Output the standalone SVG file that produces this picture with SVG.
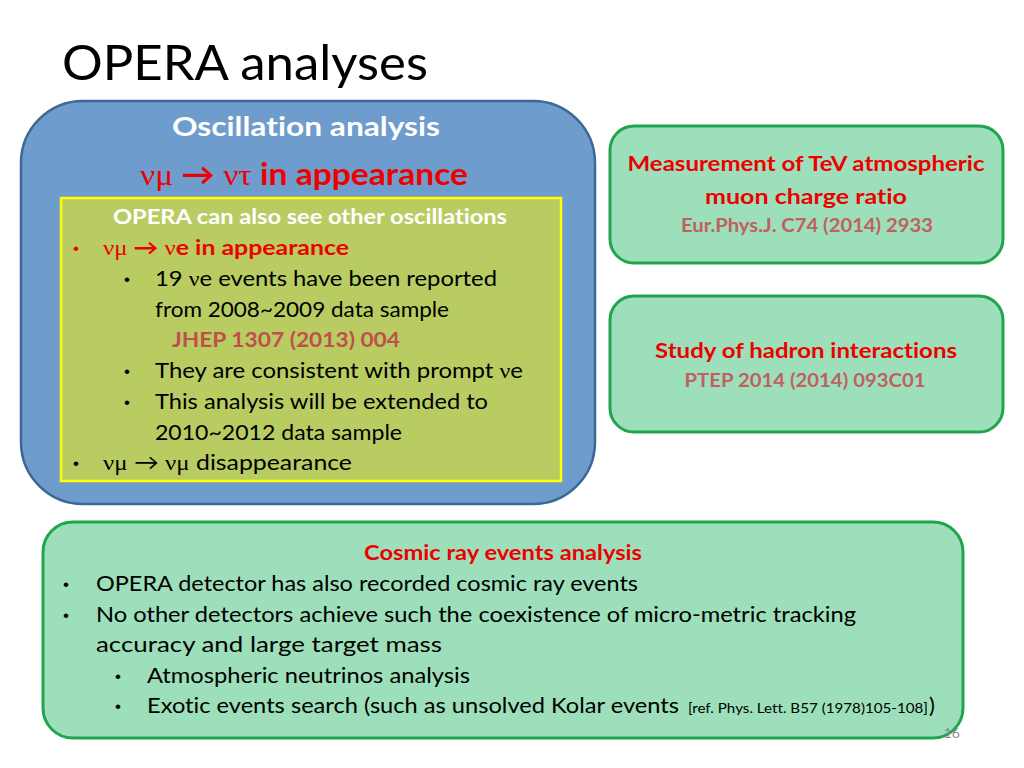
<svg xmlns="http://www.w3.org/2000/svg" width="1024" height="768" viewBox="0 0 1024 768">
<style>
text{font-family:Lato,"Open Sans","Liberation Sans",sans-serif;font-variant-ligatures:none;}
.g{font-family:"Liberation Serif","DejaVu Serif",serif;font-weight:normal;}
.b{font-weight:bold;}
.body{font-size:22px;fill:#000;}
.bul{font-size:17px;fill:#000;font-family:"Liberation Sans",sans-serif;}
.red{fill:#ee0000;}
.ref{fill:#c0504d;font-weight:bold;}
.gbox{fill:#9cdfba;stroke:#20a54e;stroke-width:3;}
</style>
<rect width="1024" height="768" fill="#fff"/>
<text x="62" y="80" font-size="48" fill="#000" textLength="366" lengthAdjust="spacingAndGlyphs">OPERA analyses</text>

<g id="oscillation">
<rect x="21" y="101" width="574" height="403" rx="62" ry="62" fill="#6e9ccc" stroke="#3c6894" stroke-width="2.5"/>
<text x="306" y="136" font-size="26" class="b" fill="#fff" text-anchor="middle" textLength="268" lengthAdjust="spacingAndGlyphs">Oscillation analysis</text>
<text x="140" y="185" font-size="30" class="b red" textLength="328" lengthAdjust="spacingAndGlyphs"><tspan class="g">νμ</tspan> → <tspan class="g">ντ</tspan> in appearance</text>
<g id="other-oscillations">
<rect x="61" y="198" width="500" height="283" fill="#b9cc62" stroke="#ffff00" stroke-width="2.5"/>
<text x="310" y="224" font-size="20" class="b" fill="#fff" text-anchor="middle" textLength="394" lengthAdjust="spacingAndGlyphs">OPERA can also see other oscillations</text>
<text x="73" y="254" class="bul" style="fill:#ee0000">•</text>
<text x="103" y="255" font-size="21" class="b red" textLength="246" lengthAdjust="spacingAndGlyphs"><tspan class="g">νμ</tspan> → <tspan class="g">ν</tspan>e in appearance</text>
<text x="124" y="285" class="bul">•</text>
<text x="155" y="286" class="body" textLength="342" lengthAdjust="spacingAndGlyphs">19 <tspan class="g">ν</tspan>e events have been reported</text>
<text x="155" y="317" class="body" textLength="294" lengthAdjust="spacingAndGlyphs">from 2008~2009 data sample</text>
<text x="172" y="347" font-size="20" class="ref" textLength="228" lengthAdjust="spacingAndGlyphs">JHEP 1307 (2013) 004</text>
<text x="124" y="377" class="bul">•</text>
<text x="155" y="378" class="body" textLength="368" lengthAdjust="spacingAndGlyphs">They are consistent with prompt <tspan class="g">ν</tspan>e</text>
<text x="124" y="408" class="bul">•</text>
<text x="155" y="409" class="body" textLength="333" lengthAdjust="spacingAndGlyphs">This analysis will be extended to</text>
<text x="155" y="440" class="body" textLength="247" lengthAdjust="spacingAndGlyphs">2010~2012 data sample</text>
<text x="73" y="469" class="bul">•</text>
<text x="103" y="470" class="body" textLength="249" lengthAdjust="spacingAndGlyphs"><tspan class="g">νμ</tspan> → <tspan class="g">νμ</tspan> disappearance</text>
</g>
</g>

<g id="muon-charge">
<rect class="gbox" x="610" y="126" width="393" height="137" rx="24" ry="24"/>
<text x="806" y="171" font-size="21" class="b red" text-anchor="middle" textLength="357" lengthAdjust="spacingAndGlyphs">Measurement of TeV atmospheric</text>
<text x="806" y="204" font-size="21" class="b red" text-anchor="middle" textLength="202" lengthAdjust="spacingAndGlyphs">muon charge ratio</text>
<text x="807" y="232" font-size="18" class="ref" text-anchor="middle" textLength="252" lengthAdjust="spacingAndGlyphs" style="fill:#c06060">Eur.Phys.J. C74 (2014) 2933</text>
</g>

<g id="hadron">
<rect class="gbox" x="610" y="296" width="393" height="136" rx="24" ry="24"/>
<text x="806" y="358" font-size="21" class="b red" text-anchor="middle" textLength="302" lengthAdjust="spacingAndGlyphs">Study of hadron interactions</text>
<text x="805" y="387" font-size="18" class="ref" text-anchor="middle" textLength="241" lengthAdjust="spacingAndGlyphs" style="fill:#c06060">PTEP 2014 (2014) 093C01</text>
</g>

<g id="cosmic">
<rect class="gbox" x="43" y="522" width="920" height="216" rx="30" ry="30"/>
<text x="503" y="560" font-size="20" class="b red" text-anchor="middle" textLength="278" lengthAdjust="spacingAndGlyphs">Cosmic ray events analysis</text>
<text x="63" y="590" class="bul">•</text>
<text x="96" y="591" class="body" textLength="542" lengthAdjust="spacingAndGlyphs">OPERA detector has also recorded cosmic ray events</text>
<text x="63" y="621" class="bul">•</text>
<text x="96" y="622" class="body" textLength="760" lengthAdjust="spacingAndGlyphs">No other detectors achieve such the coexistence of micro-metric tracking</text>
<text x="96" y="652" class="body" textLength="346" lengthAdjust="spacingAndGlyphs">accuracy and large target mass</text>
<text x="115" y="682" class="bul">•</text>
<text x="147" y="683" class="body" textLength="323" lengthAdjust="spacingAndGlyphs">Atmospheric neutrinos analysis</text>
<text x="115" y="712" class="bul">•</text>
<text x="147" y="713" class="body" textLength="532" lengthAdjust="spacingAndGlyphs">Exotic events search (such as unsolved Kolar events</text>
<text x="688" y="713" font-size="14" fill="#000" textLength="240" lengthAdjust="spacingAndGlyphs">[ref. Phys. Lett. B57 (1978)105-108]</text>
<text x="929" y="713" class="body">)</text>
</g>

<text x="960" y="738" font-size="14" fill="#8c8c8c" text-anchor="end">16</text>
</svg>
